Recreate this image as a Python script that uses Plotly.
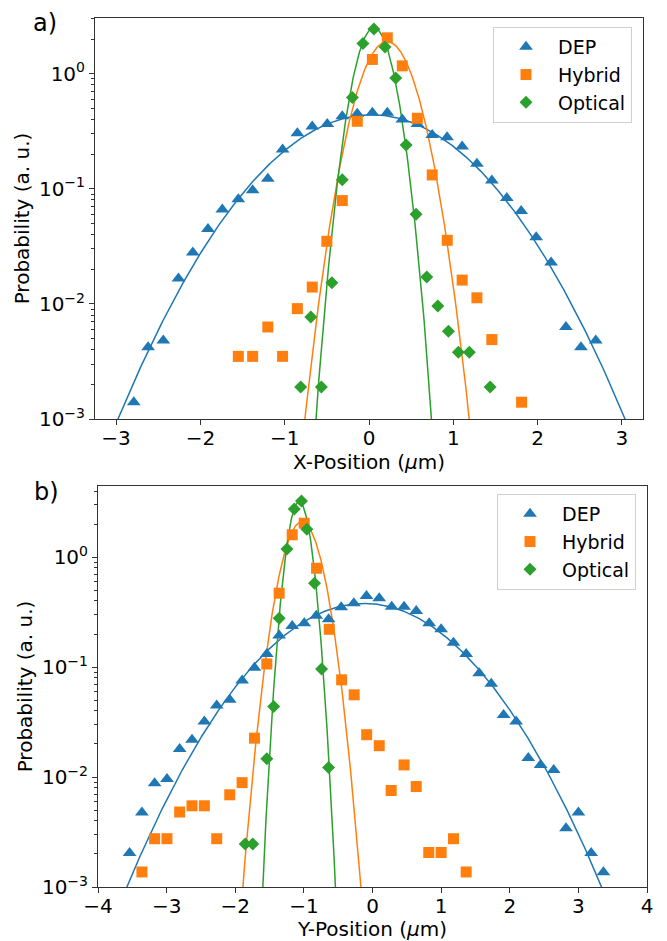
import numpy as np
import plotly.graph_objects as go

# ---------------- data: panel a) X-position ----------------
dep_x_a = [-2.79, -2.62, -2.44, -2.26, -2.09, -1.91, -1.74, -1.55, -1.38, -1.20, -1.025, -0.85, -0.673,
           -0.495, -0.317, -0.139, 0.04, 0.217, 0.395, 0.574, 0.75, 0.926, 1.105, 1.28, 1.457, 1.635,
           1.805, 1.983, 2.16, 2.336, 2.514, 2.69]
dep_y_a = [0.0014, 0.0042, 0.0048, 0.0166, 0.0279, 0.0447, 0.066, 0.081, 0.097, 0.122, 0.22, 0.304, 0.347,
           0.366, 0.427, 0.448, 0.457, 0.457, 0.40, 0.366, 0.294, 0.281, 0.233, 0.165, 0.118, 0.083,
           0.064, 0.038, 0.0229, 0.0063, 0.0042, 0.0048]
hyb_x_a = [-1.55, -1.38, -1.20, -1.025, -0.85, -0.673, -0.50, -0.317, -0.139, 0.04, 0.217, 0.395, 0.574,
           0.75, 0.928, 1.105, 1.28, 1.457, 1.81]
hyb_y_a = [0.0035, 0.0035, 0.0063, 0.0035, 0.0091, 0.014, 0.035, 0.079, 0.386, 1.33, 2.05, 1.17, 0.41,
           0.132, 0.0357, 0.0161, 0.0113, 0.0049, 0.0014]
opt_x_a = [-0.81, -0.69, -0.565, -0.44, -0.317, -0.197, -0.072, 0.058, 0.19, 0.317, 0.44, 0.558, 0.685,
           0.816, 0.942, 1.06, 1.19, 1.437]
opt_y_a = [0.0019, 0.0077, 0.0019, 0.0153, 0.12, 0.62, 1.83, 2.44, 1.71, 0.92, 0.24, 0.06, 0.0171,
           0.0096, 0.0058, 0.0038, 0.0038, 0.0019]

# ---------------- data: panel b) Y-position ----------------
dep_x_b = [-3.54, -3.36, -3.175, -2.995, -2.81, -2.63, -2.45, -2.27, -2.08, -1.90, -1.72, -1.54, -1.36,
           -1.17, -0.995, -0.82, -0.64, -0.456, -0.272, -0.088, 0.098, 0.28, 0.46, 0.637, 0.826, 1.0,
           1.18, 1.365, 1.555, 1.73, 1.91, 2.093, 2.27, 2.45, 2.64, 2.82, 3.0, 3.186, 3.365]
dep_y_b = [0.00204, 0.00476, 0.0088, 0.0096, 0.018, 0.0218, 0.032, 0.0448, 0.0505, 0.0755, 0.0986, 0.132,
           0.194, 0.237, 0.251, 0.294, 0.273, 0.351, 0.382, 0.445, 0.424, 0.355, 0.355, 0.325, 0.251,
           0.221, 0.167, 0.132, 0.088, 0.0705, 0.0368, 0.032, 0.0149, 0.0129, 0.0116, 0.00343, 0.00476,
           0.00204, 0.00136]
hyb_x_b = [-3.36, -3.175, -2.995, -2.81, -2.63, -2.45, -2.27, -2.08, -1.90, -1.72, -1.54, -1.36, -1.17,
           -0.995, -0.815, -0.63, -0.45, -0.267, -0.085, 0.098, 0.272, 0.46, 0.637, 0.82, 1.0, 1.18, 1.365]
hyb_y_b = [0.00137, 0.00275, 0.00275, 0.00481, 0.00548, 0.00548, 0.00275, 0.0069, 0.0089, 0.0226, 0.107,
           0.471, 1.6, 2.04, 0.794, 0.221, 0.0767, 0.056, 0.0243, 0.0193, 0.00755, 0.0129, 0.0082,
           0.00206, 0.00206, 0.00275, 0.00137]
opt_x_b = [-1.855, -1.745, -1.54, -1.44, -1.36, -1.247, -1.14, -1.035, -0.956, -0.845, -0.742, -0.64]
opt_y_b = [0.00246, 0.00246, 0.0147, 0.0439, 0.278, 1.19, 2.75, 3.25, 1.8, 0.58, 0.096, 0.0122]

# Gaussian fit parameters: (amplitude, centre, sigma)
fit_a = {"DEP": (0.44, 0.03, 0.862), "Hybrid": (1.9, 0.215, 0.251), "Optical": (2.5, 0.058, 0.174)}
fit_b = {"DEP": (0.38, -0.12, 1.004), "Hybrid": (2.1, -1.03, 0.22), "Optical": (3.2, -1.07, 0.132)}

series_names = ["DEP", "Hybrid", "Optical"]
colors = {"DEP": "#1f77b4", "Hybrid": "#ff7f0e", "Optical": "#2ca02c"}
symbols = {"DEP": "triangle-up", "Hybrid": "square", "Optical": "diamond"}
msize = {"DEP": 12, "Hybrid": 11, "Optical": 10}

W, H = 667, 941
FONT = "DejaVu Sans"

fig = go.Figure()

panels = [
    dict(xa="x", ya="y", leg="legend", xr=[-3.25, 3.25], data={
        "DEP": (dep_x_a, dep_y_a), "Hybrid": (hyb_x_a, hyb_y_a), "Optical": (opt_x_a, opt_y_a)}, fit=fit_a),
    dict(xa="x2", ya="y2", leg="legend2", xr=[-4, 4], data={
        "DEP": (dep_x_b, dep_y_b), "Hybrid": (hyb_x_b, hyb_y_b), "Optical": (opt_x_b, opt_y_b)}, fit=fit_b),
]

for p in panels:
    xs = np.linspace(p["xr"][0], p["xr"][1], 800)
    for name in series_names:
        A, mu, s = p["fit"][name]
        ys = A * np.exp(-(xs - mu) ** 2 / (2 * s ** 2))
        ys = np.where(ys < 1e-4, np.nan, ys)
        fig.add_trace(go.Scatter(x=xs, y=ys, mode="lines", xaxis=p["xa"], yaxis=p["ya"],
                                 line=dict(color=colors[name], width=1.5), showlegend=False,
                                 hoverinfo="skip", connectgaps=False))
    for name in series_names:
        xv, yv = p["data"][name]
        fig.add_trace(go.Scatter(x=xv, y=yv, mode="markers", name=name, xaxis=p["xa"], yaxis=p["ya"],
                                 legend=p["leg"],
                                 marker=dict(symbol=symbols[name], color=colors[name], size=msize[name],
                                             line=dict(width=0))))

major = [1e-3, 1e-2, 1e-1, 1]
major_txt = ["10<sup>−3</sup>", "10<sup>−2</sup>", "10<sup>−1</sup>", "10<sup>0</sup>"]
minor_vals = [m * 10 ** e for e in range(-3, 1) for m in range(2, 10)]

axis_common = dict(showline=True, linecolor="#333", linewidth=1, mirror=True, showgrid=False,
                   zeroline=False, ticks="outside", ticklen=5, tickcolor="#333",
                   tickfont=dict(family=FONT, size=20, color="black"), automargin=False)

def yaxis(dom, top):
    return dict(axis_common, type="log", range=[-3, top], domain=dom, tickvals=major, ticktext=major_txt,
                minor=dict(tickvals=minor_vals, ticks="outside", ticklen=3, tickcolor="#333"),
                title=dict(text="Probability (a. u.)", font=dict(family=FONT, size=20, color="black"),
                           standoff=3))

def xaxis(dom, rng, anchor, label):
    return dict(axis_common, range=rng, domain=dom, dtick=1, anchor=anchor, ticklabelstandoff=-4,
                title=dict(text=label, font=dict(family=FONT, size=20, color="black"), standoff=2))

legend_common = dict(xanchor="left", yanchor="top", bgcolor="rgba(255,255,255,0.8)",
                     bordercolor="#d0d0d0", borderwidth=1,
                     font=dict(family=FONT, size=19, color="black"), itemwidth=54, tracegroupgap=0)

fig.update_layout(
    width=W, height=H,
    margin=dict(l=0, r=0, t=0, b=0),
    paper_bgcolor="white", plot_bgcolor="white",
    xaxis=xaxis([95 / W, 643 / W], [-3.25, 3.25], "y", "X-Position (<i>μ</i>m)"),
    yaxis=dict(yaxis([1 - 419 / H, 1 - 18 / H], 0.484), anchor="x"),
    xaxis2=xaxis([98 / W, 647 / W], [-4, 4], "y2", "Y-Position (<i>μ</i>m)"),
    yaxis2=dict(yaxis([1 - 887 / H, 1 - 486 / H], 0.648), anchor="x2"),
    legend=dict(legend_common, x=493 / W, y=1 - 27 / H),
    legend2=dict(legend_common, x=497 / W, y=1 - 494 / H),
    annotations=[
        dict(text="a)", x=45 / W, y=1 - 23 / H, xref="paper", yref="paper", showarrow=False,
             font=dict(family=FONT, size=24, color="black"), xanchor="center", yanchor="middle"),
        dict(text="b)", x=46 / W, y=1 - 492 / H, xref="paper", yref="paper", showarrow=False,
             font=dict(family=FONT, size=24, color="black"), xanchor="center", yanchor="middle"),
    ],
)

fig.write_html("out.html", config={"displayModeBar": False},
               post_script="document.body.style.margin='0px';document.body.style.overflow='hidden';")
